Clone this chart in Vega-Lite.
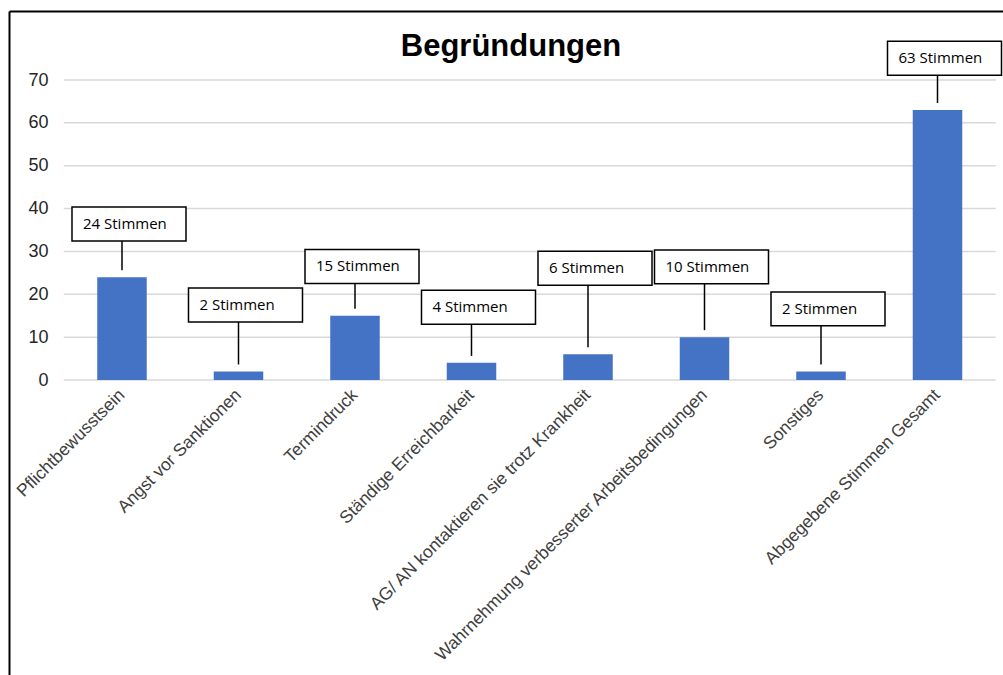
{
  "$schema": "https://vega.github.io/schema/vega-lite/v6.json",
  "autosize": "none",
  "width": 994,
  "height": 664,
  "padding": {"left": 9, "top": 11, "right": 0, "bottom": 0},
  "background": "white",
  "config": {"view": {"stroke": null}},
  "title": {
    "text": "Begründungen",
    "font": "Liberation Sans",
    "fontSize": 31,
    "fontWeight": "bold",
    "color": "black",
    "anchor": "middle",
    "frame": "group",
    "orient": "top",
    "baseline": "alphabetic",
    "offset": -43,
    "dx": 5,
    "dy": 33
  },
  "datasets": {
    "bars": [
      {"cat": "Pflichtbewusstsein", "value": 24, "labelAt": 36.4, "label": "24 Stimmen"},
      {"cat": "Angst vor Sanktionen", "value": 2, "labelAt": 17.5, "label": "2 Stimmen"},
      {"cat": "Termindruck", "value": 15, "labelAt": 26.5, "label": "15 Stimmen"},
      {"cat": "Ständige Erreichbarkeit", "value": 4, "labelAt": 17.0, "label": "4 Stimmen"},
      {"cat": "AG/ AN kontaktieren sie trotz Krankheit", "value": 6, "labelAt": 26.1, "label": "6 Stimmen"},
      {"cat": "Wahrnehmung verbesserter Arbeitsbedingungen", "value": 10, "labelAt": 26.4, "label": "10 Stimmen"},
      {"cat": "Sonstiges", "value": 2, "labelAt": 16.6, "label": "2 Stimmen"},
      {"cat": "Abgegebene Stimmen Gesamt", "value": 63, "labelAt": 75.1, "label": "63 Stimmen"}
    ],
    "grid": [{"v": 0}, {"v": 10}, {"v": 20}, {"v": 30}, {"v": 40}, {"v": 50}, {"v": 60}, {"v": 70}]
  },
  "resolve": {"axis": {"x": "independent", "y": "independent"}},
  "layer": [
    {
      "data": {"name": "grid"},
      "mark": {"type": "rule", "color": "#d9d9d9", "strokeWidth": 1.5, "xOffset": -58.25, "x2Offset": 58.25},
      "encoding": {
        "x": {"datum": "Pflichtbewusstsein", "type": "nominal", "axis": null},
        "x2": {"datum": "Abgegebene Stimmen Gesamt"},
        "y": {"field": "v", "type": "quantitative", "axis": null}
      }
    },
    {
      "data": {"name": "bars"},
      "mark": {"type": "bar", "color": "#4472C4", "width": {"band": 0.425}},
      "encoding": {
        "x": {
          "field": "cat",
          "type": "nominal",
          "sort": null,
          "scale": {
            "domain": ["Pflichtbewusstsein", "Angst vor Sanktionen", "Termindruck", "Ständige Erreichbarkeit", "AG/ AN kontaktieren sie trotz Krankheit", "Wahrnehmung verbesserter Arbeitsbedingungen", "Sonstiges", "Abgegebene Stimmen Gesamt"],
            "paddingInner": 0,
            "paddingOuter": 0.2661,
            "align": 0.883
          },
          "axis": {
            "orient": "bottom",
            "title": null,
            "offset": -295,
            "domain": false,
            "ticks": false,
            "tickSize": 0,
            "grid": false,
            "labelAngle": -45,
            "labelAlign": "right",
            "labelBaseline": "middle",
            "labelPadding": 12,
            "labelFont": "Liberation Sans",
            "labelFontSize": 17.5,
            "labelColor": "#404040",
            "labelLimit": 1000,
            "labelOverlap": false
          }
        },
        "y": {
          "field": "value",
          "type": "quantitative",
          "scale": {"domain": [-68.83, 86.1], "nice": false, "zero": false},
          "axis": {
            "orient": "left",
            "title": null,
            "values": [0, 10, 20, 30, 40, 50, 60, 70],
            "grid": false,
            "ticks": false,
            "tickSize": 0,
            "domain": true,
            "domainColor": "black",
            "domainWidth": 2,
            "labelPadding": -39,
            "labelAlign": "right",
            "labelFont": "Liberation Sans",
            "labelFontSize": 18,
            "labelColor": "#262626"
          }
        }
      }
    },
    {
      "data": {"name": "bars"},
      "mark": {"type": "rule", "color": "black", "strokeWidth": 1.5, "y2Offset": -7},
      "encoding": {
        "x": {
          "field": "cat",
          "type": "nominal",
          "sort": null,
          "axis": {
            "orient": "top",
            "title": null,
            "labels": false,
            "ticks": false,
            "grid": false,
            "domain": true,
            "domainColor": "black",
            "domainWidth": 2
          }
        },
        "y": {"field": "labelAt", "type": "quantitative", "axis": null},
        "y2": {"field": "value"}
      }
    },
    {
      "data": {"name": "bars"},
      "mark": {
        "type": "point",
        "shape": "M-1,-0.298L1,-0.298L1,0.298L-1,0.298Z",
        "size": 12996,
        "filled": true,
        "fill": "white",
        "stroke": "black",
        "strokeWidth": 1.5,
        "opacity": 1,
        "xOffset": 7
      },
      "encoding": {
        "x": {"field": "cat", "type": "nominal", "sort": null, "axis": null},
        "y": {"field": "labelAt", "type": "quantitative", "axis": null}
      }
    },
    {
      "data": {"name": "bars"},
      "mark": {
        "type": "text",
        "font": "Open Sans",
        "fontSize": 15,
        "color": "black",
        "align": "left",
        "baseline": "middle",
        "xOffset": -39
      },
      "encoding": {
        "x": {"field": "cat", "type": "nominal", "sort": null, "axis": null},
        "y": {"field": "labelAt", "type": "quantitative", "axis": null},
        "text": {"field": "label"}
      }
    }
  ]
}
